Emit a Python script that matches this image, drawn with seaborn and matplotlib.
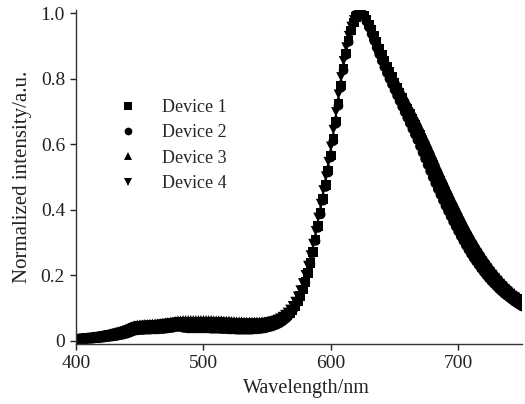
import numpy as np
import pandas as pd
import seaborn as sns
import matplotlib.pyplot as plt

# wavelength grid (nm), 2 nm steps
wavelength = np.arange(400, 751, 2)

device_names = ['Device 1', 'Device 2', 'Device 3', 'Device 4']

device1 = [0.005, 0.006, 0.006, 0.007, 0.008, 0.008, 0.009, 0.010, 0.011, 0.012,
           0.013, 0.014, 0.016, 0.017, 0.019, 0.020, 0.022, 0.024, 0.026, 0.028,
           0.031, 0.034, 0.037, 0.040, 0.041, 0.042, 0.042, 0.043, 0.043, 0.044,
           0.044, 0.045, 0.045, 0.046, 0.047, 0.048, 0.049, 0.050, 0.051, 0.052,
           0.054, 0.054, 0.054, 0.054, 0.054, 0.054, 0.054, 0.054, 0.054, 0.054,
           0.054, 0.054, 0.054, 0.054, 0.053, 0.053, 0.053, 0.053, 0.052, 0.052,
           0.052, 0.051, 0.051, 0.050, 0.050, 0.050, 0.049, 0.049, 0.049, 0.049,
           0.049, 0.049, 0.050, 0.050, 0.051, 0.052, 0.053, 0.055, 0.057, 0.060,
           0.063, 0.067, 0.072, 0.078, 0.086, 0.095, 0.106, 0.120, 0.137, 0.157,
           0.180, 0.207, 0.237, 0.271, 0.309, 0.350, 0.392, 0.434, 0.476, 0.520,
           0.566, 0.616, 0.670, 0.725, 0.780, 0.832, 0.878, 0.917, 0.948, 0.972,
           0.988, 0.997, 1.000, 0.993, 0.981, 0.966, 0.949, 0.931, 0.912, 0.893,
           0.874, 0.856, 0.838, 0.821, 0.805, 0.789, 0.773, 0.757, 0.741, 0.725,
           0.709, 0.693, 0.677, 0.661, 0.645, 0.629, 0.611, 0.593, 0.575, 0.557,
           0.538, 0.520, 0.502, 0.484, 0.467, 0.450, 0.433, 0.416, 0.400, 0.384,
           0.368, 0.352, 0.337, 0.322, 0.307, 0.293, 0.280, 0.267, 0.255, 0.243,
           0.232, 0.221, 0.211, 0.201, 0.192, 0.183, 0.175, 0.167, 0.159, 0.152,
           0.145, 0.139, 0.133, 0.127, 0.121, 0.116]

device2 = [0.003, 0.004, 0.004, 0.005, 0.005, 0.006, 0.006, 0.007, 0.008, 0.008,
           0.009, 0.010, 0.011, 0.012, 0.013, 0.014, 0.015, 0.017, 0.018, 0.020,
           0.022, 0.025, 0.028, 0.031, 0.032, 0.033, 0.033, 0.034, 0.034, 0.034,
           0.035, 0.035, 0.035, 0.036, 0.036, 0.037, 0.038, 0.039, 0.040, 0.042,
           0.043, 0.042, 0.040, 0.039, 0.038, 0.038, 0.038, 0.038, 0.038, 0.038,
           0.038, 0.038, 0.038, 0.037, 0.037, 0.037, 0.037, 0.036, 0.036, 0.036,
           0.035, 0.035, 0.035, 0.034, 0.034, 0.034, 0.034, 0.034, 0.034, 0.034,
           0.035, 0.035, 0.036, 0.037, 0.038, 0.040, 0.042, 0.044, 0.047, 0.050,
           0.054, 0.059, 0.065, 0.072, 0.081, 0.091, 0.103, 0.118, 0.136, 0.156,
           0.179, 0.205, 0.235, 0.268, 0.305, 0.345, 0.386, 0.428, 0.470, 0.514,
           0.560, 0.610, 0.663, 0.718, 0.773, 0.826, 0.873, 0.913, 0.946, 0.971,
           0.988, 0.998, 1.000, 0.990, 0.975, 0.957, 0.937, 0.916, 0.895, 0.875,
           0.855, 0.836, 0.818, 0.800, 0.783, 0.766, 0.749, 0.732, 0.715, 0.698,
           0.681, 0.664, 0.647, 0.630, 0.613, 0.594, 0.575, 0.556, 0.537, 0.518,
           0.499, 0.481, 0.463, 0.446, 0.429, 0.412, 0.396, 0.380, 0.364, 0.349,
           0.334, 0.319, 0.305, 0.291, 0.278, 0.265, 0.253, 0.242, 0.231, 0.220,
           0.210, 0.200, 0.191, 0.182, 0.174, 0.166, 0.158, 0.151, 0.144, 0.138,
           0.132, 0.126, 0.120, 0.115, 0.110, 0.105]

device3 = [0.007, 0.008, 0.009, 0.010, 0.011, 0.011, 0.012, 0.013, 0.014, 0.015,
           0.016, 0.018, 0.019, 0.021, 0.023, 0.025, 0.027, 0.029, 0.031, 0.034,
           0.037, 0.040, 0.044, 0.048, 0.050, 0.051, 0.051, 0.052, 0.052, 0.053,
           0.053, 0.054, 0.054, 0.055, 0.056, 0.057, 0.058, 0.059, 0.060, 0.061,
           0.063, 0.063, 0.064, 0.064, 0.064, 0.064, 0.064, 0.064, 0.064, 0.064,
           0.064, 0.064, 0.064, 0.064, 0.063, 0.063, 0.063, 0.063, 0.062, 0.062,
           0.062, 0.061, 0.061, 0.060, 0.060, 0.060, 0.059, 0.059, 0.059, 0.059,
           0.059, 0.059, 0.059, 0.060, 0.060, 0.061, 0.062, 0.064, 0.066, 0.069,
           0.072, 0.076, 0.081, 0.087, 0.095, 0.104, 0.115, 0.129, 0.146, 0.166,
           0.189, 0.216, 0.246, 0.280, 0.318, 0.359, 0.401, 0.443, 0.486, 0.530,
           0.576, 0.626, 0.680, 0.735, 0.789, 0.840, 0.885, 0.922, 0.952, 0.975,
           0.990, 0.998, 1.000, 0.995, 0.985, 0.972, 0.957, 0.940, 0.922, 0.904,
           0.886, 0.869, 0.852, 0.836, 0.820, 0.805, 0.790, 0.775, 0.760, 0.745,
           0.730, 0.715, 0.700, 0.685, 0.670, 0.654, 0.637, 0.620, 0.603, 0.586,
           0.568, 0.550, 0.532, 0.514, 0.497, 0.480, 0.463, 0.446, 0.430, 0.414,
           0.398, 0.382, 0.366, 0.351, 0.336, 0.322, 0.308, 0.295, 0.282, 0.270,
           0.258, 0.246, 0.235, 0.224, 0.214, 0.204, 0.195, 0.186, 0.177, 0.169,
           0.161, 0.154, 0.147, 0.140, 0.134, 0.128]

device4 = [0.006, 0.006, 0.007, 0.008, 0.009, 0.009, 0.010, 0.011, 0.012, 0.013,
           0.014, 0.015, 0.017, 0.018, 0.020, 0.022, 0.024, 0.026, 0.028, 0.030,
           0.033, 0.036, 0.040, 0.043, 0.045, 0.046, 0.046, 0.047, 0.047, 0.048,
           0.048, 0.049, 0.049, 0.050, 0.051, 0.052, 0.053, 0.054, 0.055, 0.056,
           0.058, 0.058, 0.058, 0.058, 0.058, 0.058, 0.058, 0.058, 0.058, 0.058,
           0.058, 0.058, 0.058, 0.057, 0.057, 0.057, 0.057, 0.056, 0.056, 0.056,
           0.055, 0.055, 0.054, 0.054, 0.054, 0.053, 0.053, 0.053, 0.053, 0.053,
           0.053, 0.053, 0.054, 0.054, 0.055, 0.056, 0.058, 0.060, 0.062, 0.065,
           0.069, 0.074, 0.080, 0.087, 0.096, 0.107, 0.120, 0.136, 0.155, 0.177,
           0.202, 0.230, 0.262, 0.297, 0.336, 0.377, 0.419, 0.461, 0.503, 0.547,
           0.594, 0.645, 0.699, 0.753, 0.806, 0.855, 0.897, 0.932, 0.960, 0.980,
           0.993, 1.000, 0.998, 0.990, 0.977, 0.962, 0.945, 0.927, 0.908, 0.889,
           0.870, 0.852, 0.834, 0.817, 0.801, 0.785, 0.769, 0.753, 0.737, 0.721,
           0.705, 0.689, 0.673, 0.657, 0.641, 0.624, 0.606, 0.588, 0.570, 0.552,
           0.534, 0.516, 0.498, 0.480, 0.463, 0.446, 0.429, 0.413, 0.397, 0.381,
           0.365, 0.350, 0.335, 0.320, 0.306, 0.292, 0.279, 0.266, 0.254, 0.242,
           0.231, 0.220, 0.210, 0.200, 0.191, 0.182, 0.174, 0.166, 0.158, 0.151,
           0.144, 0.138, 0.132, 0.126, 0.120, 0.115]

xticks = [400, 500, 600, 700]
yticks = [0, 0.2, 0.4, 0.6, 0.8, 1.0]
ytick_labels = ['0', '0.2', '0.4', '0.6', '0.8', '1.0']

sns.set_style('ticks')
plt.rcParams['font.family'] = ['Liberation Serif', 'DejaVu Serif']

frames = []
for name, vals in zip(device_names, [device1, device2, device3, device4]):
    frames.append(pd.DataFrame({'Wavelength': wavelength, 'Intensity': vals, 'Device': name}))
df = pd.concat(frames, ignore_index=True)

fig = plt.figure(figsize=(5.25, 4.04), dpi=100)
ax = fig.add_axes([0.145, 0.149, 0.849, 0.826])

sns.scatterplot(data=df, x='Wavelength', y='Intensity', style='Device',
                markers=['s', 'o', '^', 'v'], color='black', s=48,
                linewidth=0, ax=ax)

ax.set_xlim(400, 750)
ax.set_ylim(-0.009, 1.01)
ax.set_xticks(xticks)
ax.set_yticks(yticks)
ax.set_yticklabels(ytick_labels)
ax.tick_params(direction='out', length=4, width=1, pad=4, labelsize=14, colors='#222222')
for side in ['top', 'right']:
    ax.spines[side].set_visible(False)
for side in ['left', 'bottom']:
    ax.spines[side].set_color('#333333')
    ax.spines[side].set_linewidth(1)

ax.set_xlabel('Wavelength/nm', fontsize=14.5, color='#222222', labelpad=7)
ax.xaxis.set_label_coords(0.517, -0.105)
ax.set_ylabel('Normalized intensity/a.u.', fontsize=15, color='#222222', labelpad=6)

handles, labels = ax.get_legend_handles_labels()
for h in handles:
    h.set_color('black')
    h.set_markerfacecolor('black')
    h.set_markeredgecolor('black')
ax.legend(handles, labels, frameon=False, loc='upper left',
          bbox_to_anchor=(0.06, 0.755), markerscale=0.8, handletextpad=0.9,
          labelspacing=0.46, fontsize=13, borderaxespad=0)

fig.savefig('out.png', dpi=100, facecolor='white')
